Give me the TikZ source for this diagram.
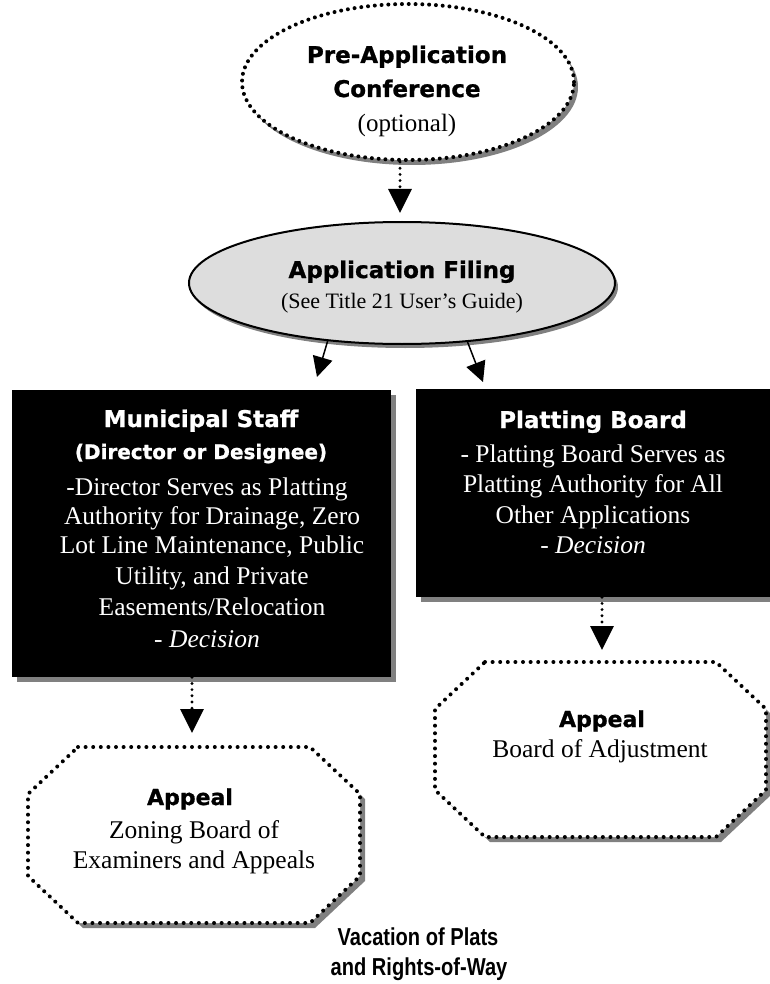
\documentclass[tikz,border=0pt]{standalone}
\usepackage{fontspec}
\usetikzlibrary{arrows.meta,shapes.geometric,shadows}
\setmainfont{Liberation Serif}
\newfontfamily\heavyfam{DejaVu Sans}[BoldFeatures={FakeBold=1}]
\newfontfamily\narrowfam{Liberation Sans}[FakeStretch=0.82]
\definecolor{fillgray}{HTML}{DDDDDD}
\definecolor{shadowgray}{HTML}{808080}

% octagon from its bounding corners (x1,y1)-(x2,y2) with corner cuts cx, cy
\newcommand\octpath[6]{({#1+#5},#2) -- ({#3-#5},#2) -- (#3,{#2+#6}) -- (#3,{#4-#6})
  -- ({#3-#5},#4) -- ({#1+#5},#4) -- (#1,{#4-#6}) -- (#1,{#2+#6}) -- cycle}

\tikzset{
  dotline/.style={line width=4pt, line cap=round, dash pattern=on 0pt off 7.6pt},
  shade5/.style={drop shadow={shadow xshift=5pt, shadow yshift=-5pt, fill=shadowgray, opacity=1}},
  startnode/.style={ellipse, draw, dotline, dash pattern=on 0pt off 6.8pt, fill=white, inner sep=0pt,
    drop shadow={shadow xshift=4pt, shadow yshift=-5pt, fill=shadowgray, opacity=1}},
  filingnode/.style={ellipse, draw, line width=2pt, fill=fillgray, inner sep=0pt,
    drop shadow={shadow xshift=3pt, shadow yshift=-4pt, fill=shadowgray, opacity=1}},
  blackbox/.style={rectangle, fill=black, inner sep=0pt, shade5},
  heavy/.style={font=\heavyfam\bfseries\fontsize{#1}{#1}\selectfont},
  serif/.style={font=\fontsize{#1}{#1}\selectfont},
  line/.style={inner sep=0pt, anchor=base},
  wline/.style={inner sep=0pt, anchor=base, text=white},
  dotarrow/.style={line width=3.2pt, line cap=round, dash pattern=on 0pt off 6.2pt,
    -{Triangle[length=24pt, width=23pt]}},
  solidarrow/.style={line width=1.5pt, -{Triangle[length=20pt, width=20pt]}},
}

\begin{document}
\begin{tikzpicture}[x=1pt, y=-1pt]
\useasboundingbox (0,0) rectangle (769,984);

% ---------- shapes ----------
\node[startnode, minimum width=332pt, minimum height=156pt] (pre) at (408,82) {};
\node[filingnode, minimum width=426pt, minimum height=122pt] (filing) at (402,283) {};
\node[blackbox, minimum width=379pt, minimum height=287pt] (staff) at (201.5,533.5) {};
\node[blackbox, minimum width=354pt, minimum height=208pt] (board) at (593,493) {};

% appeal octagons (shadow first, then white dotted outline)
\fill[shadowgray, shift={(5,5)}] \octpath{435}{662}{766}{837}{50}{47};
\draw[dotline, fill=white] \octpath{435}{662}{766}{837}{50}{47};
\fill[shadowgray, shift={(5,5)}] \octpath{28}{747}{360}{923}{50}{47};
\draw[dotline, fill=white] \octpath{28}{747}{360}{923}{50}{47};

% ---------- connectors ----------
\coordinate (tipA) at (400,213);
\coordinate (tipL) at (317,377);
\coordinate (tipR) at (483,382);
\coordinate (tipS) at (192,733);
\coordinate (tipB) at (602,650);
\draw[dotarrow] (pre.south -| tipA) -- (tipA);
\draw[solidarrow] (filing.218) -- (tipL);
\draw[solidarrow] (filing.318) -- (tipR);
\draw[dotarrow] (staff.south -| tipS) -- (tipS);
\draw[dotarrow] (board.south -| tipB) -- (tipB);

% ---------- texts ----------
\node[line, heavy=23] (preA) at (407,63) {Pre-Application};
\node[line, heavy=23] (preB) at (407,97) {Conference};
\node[line, serif=25] (preC) at (407,132) {(optional)};

\node[line, heavy=23] (filA) at (402,278) {Application Filing};
\node[line, serif=22] (filB) at (402,308) {(See Title 21 User’s Guide)};

\node[wline, heavy=23] (stA) at (201,427) {Municipal Staff};
\node[wline, heavy=20] (stB) at (201,459) {(Director or Designee)};
\node[wline, serif=25.5] (stC) at (207,495) {-Director Serves as Platting};
\node[wline, serif=25.5] (stD) at (212,524) {Authority for Drainage, Zero};
\node[wline, serif=25.5] (stE) at (212,553) {Lot Line Maintenance, Public};
\node[wline, serif=25.5] (stF) at (212,584) {Utility, and Private};
\node[wline, serif=25.5] (stG) at (212,615) {Easements/Relocation};
\node[wline, serif=25.5] (stH) at (207,647) {\itshape - Decision};

\node[wline, heavy=23] (bdA) at (593,428) {Platting Board};
\node[wline, serif=25.5] (bdB) at (593,462) {- Platting Board Serves as};
\node[wline, serif=25.5] (bdC) at (593,492) {Platting Authority for All};
\node[wline, serif=25.5] (bdD) at (593,523) {Other Applications};
\node[wline, serif=25.5] (bdE) at (593,553) {\itshape - Decision};

\node[line, heavy=22] (apRA) at (602,727) {Appeal};
\node[line, serif=25.5] (apRB) at (600,757) {Board of Adjustment};

\node[line, heavy=22] (apLA) at (190,805) {Appeal};
\node[line, serif=25.5] (apLB) at (194,838) {Zoning Board of};
\node[line, serif=25.5] (apLC) at (194,868) {Examiners and Appeals};

\node[line, font=\narrowfam\bfseries\fontsize{24.5}{24.5}\selectfont] (capA) at (418,945) {Vacation of Plats};
\node[line, font=\narrowfam\bfseries\fontsize{24.5}{24.5}\selectfont] (capB) at (419,975) {and Rights-of-Way};
\end{tikzpicture}
\end{document}
